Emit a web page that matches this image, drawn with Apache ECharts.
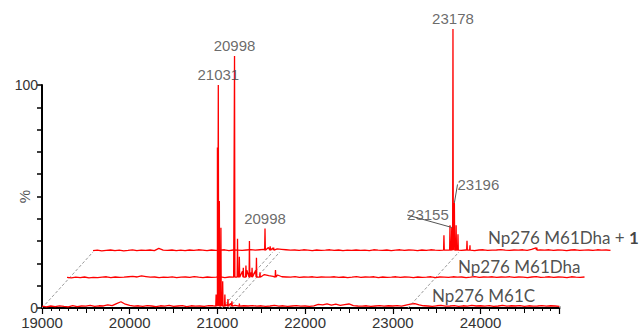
<!DOCTYPE html>
<html>
<head>
<meta charset="utf-8">
<script src="https://cdn.jsdelivr.net/npm/echarts@6/dist/echarts.min.js"></script>
<style>
html, body { margin: 0; padding: 0; background: #fff; }
#chart { width: 642px; height: 330px; }
</style>
</head>
<body>
<div id="chart"></div>
<script>
// 堆叠质谱图：三条谱线前后错开，前面一条带坐标轴
var noiseStart = 19000, noiseStep = 50;   // 基线噪声 19000..24900，每 50 一个点，单位 0.1 %

var frontNoise = [
    8, 5, 9, 6, 10, 7, 5, 11, 6, 9, 8, 12, 7, 10, 9, 14, 11, 20, 28, 17,
    12, 8, 10, 7, 11, 9, 6, 10, 8, 12, 7, 9, 11, 6, 10, 8, 9, 7, 11, 10,
    18, 22, 15, 20, 12, 14, 10, 9, 11, 8, 10, 7, 9, 12, 8, 10, 7, 9, 11, 8,
    9, 7, 10, 16, 14, 19, 13, 17, 12, 15, 18, 11, 9, 8, 10, 7, 9, 11, 8, 10,
    9, 11, 8, 13, 17, 20, 14, 10, 9, 7, 10, 12, 8, 9, 11, 7, 10, 8, 12, 9,
    10, 8, 11, 7, 9, 12, 8, 10, 9, 11, 7, 10, 8, 9, 11, 8, 10, 9, 7
];
var middleNoise = [
    7, 5, 8, 6, 9, 5, 7, 6, 8, 10, 6, 9, 7, 8, 10, 12, 9, 14, 11, 8,
    9, 6, 8, 7, 10, 6, 8, 9, 7, 11, 8, 6, 9, 7, 8, 10, 6, 9, 8, 12,
    35, 40, 30, 38, 25, 20, 15, 12, 18, 10, 9, 8, 11, 7, 9, 8, 10, 7, 9, 8,
    8, 10, 7, 9, 6, 8, 11, 7, 9, 8, 10, 6, 9, 7, 8, 10, 7, 9, 8, 6,
    9, 7, 8, 10, 6, 9, 8, 7, 10, 8, 9, 6, 8, 11, 7, 9, 8, 10, 7, 9,
    8, 10, 7, 9, 8, 6, 9, 11, 7, 8, 10, 7, 9, 8, 6, 10, 8, 7, 9
];
var backNoise = [
    6, 8, 5, 7, 9, 6, 8, 5, 7, 10, 6, 8, 7, 9, 6, 16, 8, 7, 9, 6,
    8, 6, 9, 7, 10, 8, 6, 9, 7, 8, 10, 6, 9, 8, 7, 9, 11, 8, 10, 12,
    20, 18, 14, 12, 10, 8, 9, 7, 10, 8, 6, 9, 7, 8, 10, 7, 9, 6, 8, 7,
    9, 7, 8, 6, 10, 8, 7, 9, 6, 8, 10, 7, 9, 8, 6, 9, 7, 10, 8, 7,
    9, 8, 12, 10, 7, 9, 8, 6, 9, 10, 7, 8, 9, 11, 8, 7, 9, 8, 10, 7,
    12, 18, 9, 8, 10, 7, 9, 8, 6, 9, 10, 7, 8, 9, 7, 10, 8, 9, 7
];

// 峰 [m/z, %]
var frontPeaks = [[20985, 6], [21000, 72], [21010, 100], [21022, 48], [21040, 36], [21060, 12],
    [21085, 6], [21120, 4], [21165, 3], [21250, 2]];
var middlePeaks = [[20910, 100], [20944, 18], [20965, 10], [21010, 5], [21040, 6], [21080, 17],
    [21110, 5], [21160, 9.5], [21200, 3], [21377, 4]];
var backPeaks = [[20961, 10.5], [21020, 2.5], [21060, 2], [23001, 7.5], [23070, 12], [23090, 11],
    [23104, 100], [23120, 22], [23140, 12], [23161, 8], [23264, 5], [23298, 3], [24060, 2]];

var traceNames = ['Np276 M61C', 'Np276 M61Dha', 'Np276 M61Dha + 1'];
var traceNamePos = [[23446, 5.8], [23457, 5.8], [23503, 6.7]];   // 谱线名称所在位置 (m/z, %)

// 峰标注 [谱线, m/z, %, 文字]
var peakLabels = [[0, 21010, 100, '21031'], [1, 20910, 100, '20998'], [2, 20961, 10.5, '20998'], [2, 23104, 100, '23178']];
var leaderLabels = [[2, 23120, 22, '23196'], [2, 23092, 11, '23155']];

var xTicks = [19000, 20000, 21000, 22000, 23000, 24000];
var guideMz = [19000, 21050, 21130, 23172, 24900];   // 虚线连接处

/* 版面：前、中、后三个坐标系 */
var xMin = 19000, xMax = 24900;
var plotW = 517.5, plotH = 223;
var grids = [
    {left: 42, top: 85, width: plotW, height: plotH, outerBoundsMode: 'none', containLabel: false},
    {left: 67, top: 56, width: plotW, height: plotH, outerBoundsMode: 'none', containLabel: false},
    {left: 93, top: 29, width: plotW, height: plotH, outerBoundsMode: 'none', containLabel: false}
];
var mzPerPx = (xMax - xMin) / plotW;
var depthMz = (grids[2].left - grids[0].left) * mzPerPx;
var depthPct = (grids[0].top - grids[2].top) / plotH * 100;
var red = '#ff0000';

function buildTrace(noise, peaks) {
    var pts = noise.map(function (n, i) { return [noiseStart + i * noiseStep, n / 10]; });
    peaks.forEach(function (p) {
        pts.push([p[0] - 4, 0.8], [p[0], p[1]], [p[0] + 4, 0.8]);
    });
    pts.sort(function (a, b) { return a[0] - b[0]; });
    return pts;
}
var traces = [buildTrace(frontNoise, frontPeaks), buildTrace(middleNoise, middlePeaks), buildTrace(backNoise, backPeaks)];

var chart = echarts.init(document.getElementById('chart'), null, {renderer: 'svg'});

var xAxes = [], yAxes = [];
grids.forEach(function (g, i) {
    var front = i === 0;
    xAxes.push({
        type: 'value', gridIndex: i, min: xMin, max: xMax, interval: 1000, show: front,
        axisLine: {show: true, lineStyle: {color: '#000', width: 2}},
        axisTick: {show: true, length: 6, lineStyle: {color: '#000', width: 1.2}},
        minorTick: {show: true, splitNumber: 10, length: 3, lineStyle: {color: '#000'}},
        splitLine: {show: false},
        axisLabel: {
            show: true, fontSize: 15, color: '#333', fontFamily: 'Liberation Sans', margin: 7,
            showMaxLabel: false,
            formatter: function (v) { return xTicks.indexOf(v) >= 0 ? String(v) : ''; }
        }
    });
    yAxes.push({
        type: 'value', gridIndex: i, min: 0, max: 100, interval: 10, show: front,
        axisLine: {show: true, lineStyle: {color: '#000', width: 2}},
        axisTick: {show: true, length: 5, lineStyle: {color: '#000', width: 1.5}},
        splitLine: {show: false},
        axisLabel: {
            fontSize: 14, color: '#333', fontFamily: 'Liberation Sans', margin: 4,
            formatter: function (v) { return (v === 0 || v === 100) ? String(v) : ''; }
        },
        name: front ? '%' : '', nameLocation: 'middle', nameRotate: 90, nameGap: 10,
        nameMoveOverlap: false,
        nameTextStyle: {fontSize: 15, color: '#555', fontFamily: 'Liberation Sans'}
    });
});
// 500 处较长的刻度
xAxes.push({
    type: 'value', gridIndex: 0, min: xMin, max: xMax, interval: 500, position: 'bottom',
    axisLine: {show: false}, axisLabel: {show: false}, splitLine: {show: false},
    axisTick: {show: true, length: 5, lineStyle: {color: '#000'}}
});

var series = [];

// 虚线
guideMz.forEach(function (m) {
    series.push({
        type: 'line', xAxisIndex: 0, yAxisIndex: 0, clip: false, symbol: 'none', silent: true, z: 1,
        lineStyle: {color: '#999', width: 1, type: [3, 2]},
        data: [[m, 0], [m + depthMz, depthPct]]
    });
});

// 谱线（后 -> 前）
[2, 1, 0].forEach(function (i) {
    series.push({
        type: 'line', name: traceNames[i], xAxisIndex: i, yAxisIndex: i, symbol: 'none', z: 3,
        clip: false,
        lineStyle: {color: red, width: 1.3},
        data: traces[i]
    });
});

// 谱线名称
traceNames.forEach(function (name, i) {
    var text = i === 2 ? '{n|Np276 M61Dha + }{b|1}' : '{n|' + name + '}';
    series.push({
        type: 'scatter', xAxisIndex: i, yAxisIndex: i, symbolSize: 0, silent: true, z: 5,
        data: [traceNamePos[i]],
        label: {
            show: true, position: 'right', distance: 0, formatter: text,
            rich: {
                n: {fontFamily: 'Lato', fontSize: 17, color: '#222'},
                b: {fontFamily: 'Lato', fontSize: 17, color: '#111', fontWeight: 'bold'}
            }
        }
    });
});

// 峰标注
var peakLabelStyle = {show: true, position: 'top', distance: 3, fontSize: 15, color: '#444', fontFamily: 'Liberation Sans'};
peakLabels.forEach(function (p) {
    series.push({
        type: 'scatter', xAxisIndex: p[0], yAxisIndex: p[0], symbolSize: 0, silent: true, z: 5,
        data: [{value: [p[1], p[2]], name: p[3]}],
        label: Object.assign({formatter: '{b}'}, peakLabelStyle)
    });
});
var leaderShift = [[24, -8], [-24, -2]];
leaderLabels.forEach(function (p, k) {
    series.push({
        type: 'scatter', xAxisIndex: p[0], yAxisIndex: p[0], symbolSize: 0, silent: true, z: 5,
        data: [{value: [p[1], p[2]], name: p[3]}],
        label: Object.assign({formatter: '{b}'}, peakLabelStyle),
        labelLayout: {dx: leaderShift[k][0], dy: leaderShift[k][1]},
        labelLine: {show: true, lineStyle: {color: '#555', width: 1}}
    });
});

chart.setOption({
    animation: false,
    backgroundColor: '#fff',
    grid: grids,
    xAxis: xAxes,
    yAxis: yAxes,
    series: series
});
</script>
</body>
</html>
